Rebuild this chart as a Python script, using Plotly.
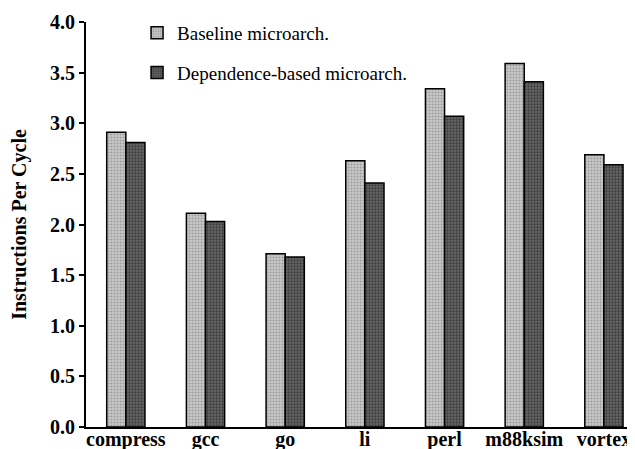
import plotly.graph_objects as go

benchmarks = ["compress", "gcc", "go", "li", "perl", "m88ksim", "vortex"]
baseline = [2.91, 2.11, 1.71, 2.63, 3.34, 3.59, 2.69]
dependence = [2.81, 2.03, 1.68, 2.41, 3.07, 3.41, 2.59]

serif = "Liberation Serif, Times New Roman, serif"

fig = go.Figure()
fig.add_trace(go.Bar(
    x=benchmarks, y=baseline, name="Baseline microarch.",
    legendgroup="a",
    marker=dict(color="#b5b5b5", line=dict(color="black", width=1.5),
                pattern=dict(shape=".", fgcolor="#6e6e6e", bgcolor="#c8c8c8", size=3, solidity=0.35)),
))
fig.add_trace(go.Bar(
    x=benchmarks, y=dependence, name="Dependence-based microarch.",
    legendgroup="b",
    marker=dict(color="#4a4a4a", line=dict(color="black", width=1.5),
                pattern=dict(shape=".", fgcolor="#101010", bgcolor="#686868", size=3, solidity=0.45)),
))

# the page body has an 8px margin, so the figure is sized to fill the rest of the window
fig.update_layout(
    width=627, height=441,
    margin=dict(l=78, r=0, t=14, b=22),
    paper_bgcolor="white", plot_bgcolor="white",
    barmode="group", bargap=0.52, bargroupgap=0,
    font=dict(family=serif, color="black"),
    showlegend=True,
    legend=dict(x=0.093, y=1.02, xanchor="left", yanchor="top",
                font=dict(family=serif, size=19), tracegroupgap=12,
                bgcolor="rgba(0,0,0,0)"),
    xaxis=dict(range=[-0.5, 6.39], showline=True, linecolor="black", linewidth=2,
               ticks="", tickfont=dict(family=serif, size=20, weight="bold"),
               ticklabelstandoff=-7, automargin=False, showgrid=False),
    yaxis=dict(range=[0, 4.0], tickvals=[0, 0.5, 1, 1.5, 2, 2.5, 3, 3.5, 4],
               ticktext=["0.0", "0.5", "1.0", "1.5", "2.0", "2.5", "3.0", "3.5", "4.0"],
               showline=True, linecolor="black", linewidth=2,
               ticks="outside", ticklen=5, tickwidth=1.5, tickcolor="black",
               tickfont=dict(family=serif, size=20, weight="bold"),
               showgrid=False, zeroline=False, automargin=False,
               title=dict(text="Instructions Per Cycle", standoff=22,
                          font=dict(family=serif, size=20, weight="bold"))),
)

fig.write_html("out.html")
